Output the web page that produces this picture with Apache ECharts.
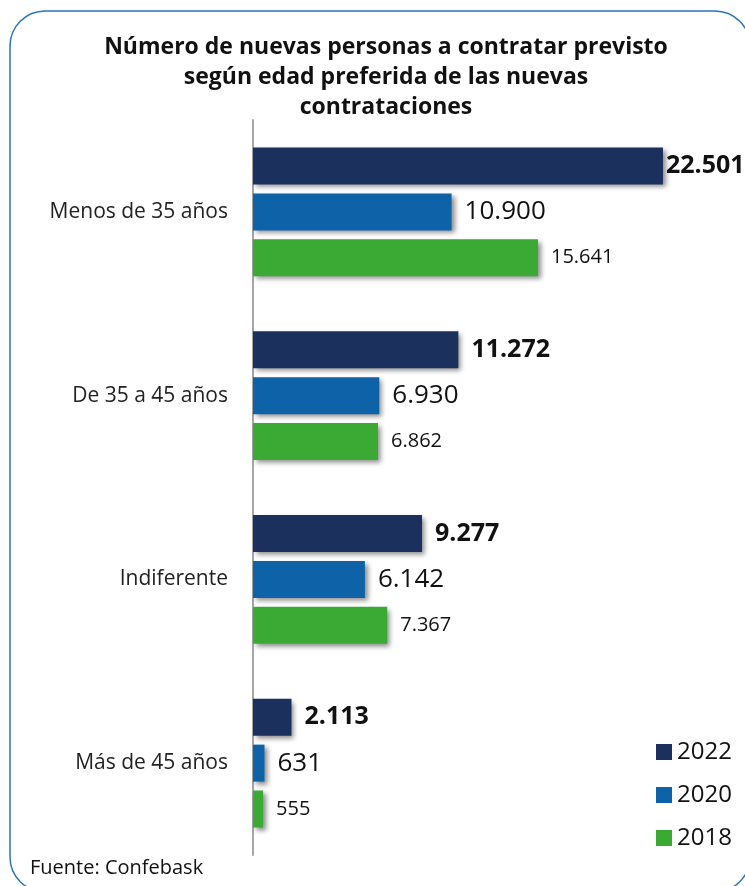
<!DOCTYPE html>
<html>
<head>
<meta charset="utf-8">
<script src="https://cdn.jsdelivr.net/npm/echarts@6/dist/echarts.min.js"></script>
<style>
  html, body { margin: 0; padding: 0; background: #fff; }
  #chart { width: 745px; height: 886px; }
</style>
</head>
<body>
<div id="chart"></div>
<script>
  // datos
  const categories = ['Menos de 35 años', 'De 35 a 45 años', 'Indiferente', 'Más de 45 años']
  const years = ['2022', '2020', '2018']
  const v2022 = [22501, 11272, 9277, 2113]
  const v2020 = [10900, 6930, 6142, 631]
  const v2018 = [15641, 6862, 7367, 555]

  const colors = ['#1B305C', '#0E63A8', '#3BAA35']
  const font = 'Open Sans'

  function miles(n) {
    return String(n).replace(/\B(?=(\d{3})+(?!\d))/g, '.')
  }

  function serie(name, data, idx, labelStyle) {
    return {
      name: name,
      type: 'bar',
      // la etiqueta de la barra mas larga va pegada al borde
      data: data.map((v, i) => (v === Math.max(...data) && idx === 0)
        ? { value: v, label: { distance: 3 } }
        : v),
      barWidth: 37,
      barGap: '24%',
      itemStyle: {
        color: colors[idx],
        shadowColor: 'rgba(0,0,0,0.45)',
        shadowBlur: 5,
        shadowOffsetX: 3,
        shadowOffsetY: 3
      },
      label: Object.assign({
        show: true,
        position: 'right',
        distance: 13,
        color: '#111',
        fontFamily: font,
        formatter: p => miles(p.value)
      }, labelStyle)
    }
  }

  let myChart = echarts.init(document.getElementById('chart'))
  const option = {
    animation: false,
    title: {
      text: 'Número de nuevas personas a contratar previsto\nsegún edad preferida de las nuevas\ncontrataciones',
      left: 381,
      top: 27,
      textAlign: 'center',
      textStyle: {
        fontFamily: font,
        fontWeight: 'bold',
        fontSize: 23,
        lineHeight: 30,
        color: '#111'
      }
    },
    legend: {
      data: years,
      orient: 'vertical',
      left: 651,
      top: 735,
      icon: 'rect',
      itemWidth: 16,
      itemHeight: 16,
      itemGap: 19,
      textStyle: { fontFamily: font, fontSize: 24, lineHeight: 24, color: '#111' }
    },
    grid: {
      left: 253,
      top: 120,
      height: 735,
      width: 455.5
    },
    xAxis: {
      type: 'value',
      min: 0,
      max: 25000,
      show: false
    },
    yAxis: {
      type: 'category',
      data: categories,
      inverse: true,
      axisLine: { lineStyle: { color: '#A6A6A6', width: 2 } },
      axisTick: { show: false },
      axisLabel: {
        margin: 25,
        fontFamily: font,
        fontSize: 21,
        color: '#222'
      }
    },
    series: [
      serie('2022', v2022, 0, { fontSize: 25, fontWeight: 'bold' }),
      serie('2020', v2020, 1, { fontSize: 26 }),
      serie('2018', v2018, 2, { fontSize: 20 })
    ],
    graphic: [
      {
        type: 'rect',
        shape: { x: 10, y: 11, width: 740, height: 881, r: 35 },
        style: { fill: 'none', stroke: '#2E75B6', lineWidth: 1.5 },
        z: -1
      },
      {
        type: 'text',
        left: 30,
        top: 858,
        style: { text: 'Fuente: Confebask', font: '20px "Open Sans"', fill: '#111' }
      }
    ]
  }
  myChart.setOption(option)
  window.addEventListener('resize', function () {
    myChart.resize()
  })
</script>
</body>
</html>
